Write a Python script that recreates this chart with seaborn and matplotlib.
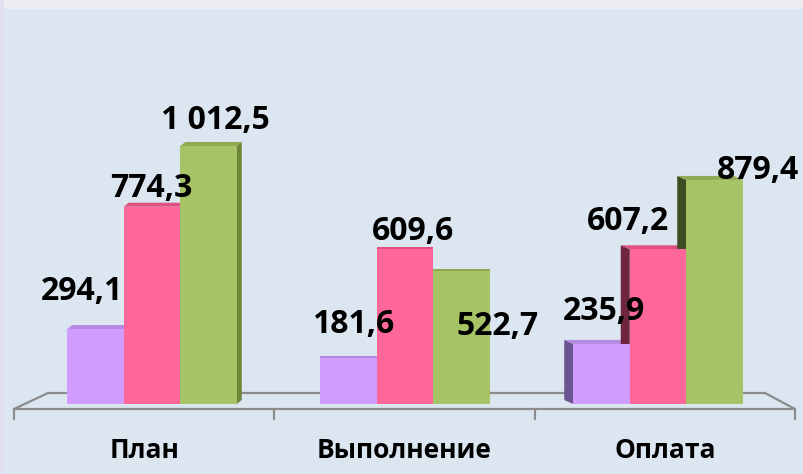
import numpy as np
import pandas as pd
import matplotlib
matplotlib.use("Agg")
import matplotlib.pyplot as plt
from matplotlib.patches import Polygon, Rectangle
import seaborn as sns

# Data
categories = ["План", "Выполнение", "Оплата"]
series = ["s1", "s2", "s3"]
values_s1 = [294.1, 181.6, 235.9]
values_s2 = [774.3, 609.6, 607.2]
values_s3 = [1012.5, 522.7, 879.4]
value_labels = [["294,1", "774,3", "1 012,5"],
                ["181,6", "609,6", "522,7"],
                ["235,9", "607,2", "879,4"]]

# styling
colors = ["#D09DFF", "#FF6699", "#A6C466"]
right_side_colors = ["#8A68AA", "#A03A5C", "#6E8537"]
left_side_colors = ["#6C5490", "#6E2640", "#3F4B22"]
top_colors = ["#B68AE0", "#E0507F", "#8FAA52"]
bg = "#DCE6F1"
# label offsets in pixels (dx, dy) per group / series
label_offsets = [[(-14, 38), (-1, 18), (7, 26)],
                 [(5, 33), (8, 17), (36, -56)],
                 [(2, 32), (-30, 28), (43, 9)]]
depth_px = [(5, 4), (0, 2), (-9, 4)]  # perspective of each group

df = pd.DataFrame({
    "cat": np.repeat(categories, 3),
    "series": series * 3,
    "value": [v for trio in zip(values_s1, values_s2, values_s3) for v in trio],
})

sns.set_theme(style="white")
plt.rcParams["font.family"] = ["Open Sans", "DejaVu Sans"]

fig = plt.figure(figsize=(8.04, 4.74), dpi=100)
fig.patch.set_facecolor(bg)
fig.patches.append(Rectangle((0, 1 - 8 / 474), 1, 8 / 474, transform=fig.transFigure,
                             color="#EDECF1", zorder=0))
fig.patches.append(Rectangle((0, 0), 3 / 804, 1, transform=fig.transFigure,
                             color="#E2E0F0", zorder=0))

ax = fig.add_axes([14 / 804, 70 / 474, 781 / 804, 396 / 474])
ax.set_facecolor(bg)

px_x = 253.0           # pixels per x unit
px_y = 0.2548          # pixels per value unit

sns.barplot(data=df, x="cat", y="value", hue="series", palette=colors,
            width=0.67, gap=0, saturation=1, legend=False, ax=ax, zorder=3,
            linewidth=0, edgecolor="none")
ax.set_xlim(-138 / px_x, 2 + 137 / px_x)
ax.set_ylim(0, 396 / px_y)

# floor of the 3D look
floor_kw = dict(color="#8C8C8C", lw=1.6, clip_on=False, zorder=1)
yf, yb = -5 / px_y, 11 / px_y
xl, xr = ax.get_xlim()
xbl, xbr = (48 - 152) / px_x, 2 + (765 - 658) / px_x
ax.plot([xl, xr], [yf, yf], **floor_kw)
ax.plot([xbl, xbr], [yb, yb], **floor_kw)
ax.plot([xl, xbl], [yf, yb], **floor_kw)
ax.plot([xr, xbr], [yf, yb], **floor_kw)
for xt in np.linspace(xl, xr, 4):
    ax.plot([xt, xt], [yf, yf - 10 / px_y], **floor_kw)

# side and top faces, labels
bars = ax.patches
for s in range(3):
    for g in range(3):
        p = bars[s * 3 + g]
        x, w, h = p.get_x(), p.get_width(), p.get_height()
        dx, dy = depth_px[g][0] / px_x, depth_px[g][1] / px_y
        if dx > 0:
            side = [(x + w, 0), (x + w + dx, dy), (x + w + dx, h + dy), (x + w, h)]
            ax.add_patch(Polygon(side, closed=True, color=right_side_colors[s], zorder=2, lw=0))
        elif dx < 0:
            side = [(x, 0), (x + dx, dy), (x + dx, h + dy), (x, h)]
            ax.add_patch(Polygon(side, closed=True, color=left_side_colors[s], zorder=2, lw=0))
        top = [(x, h), (x + w, h), (x + w + dx, h + dy), (x + dx, h + dy)]
        ax.add_patch(Polygon(top, closed=True, color=top_colors[s], zorder=2, lw=0))
        ox, oy = label_offsets[g][s]
        ax.annotate(value_labels[g][s], (x + w / 2, h), xytext=(ox, oy),
                    textcoords="offset pixels", ha="center", va="center",
                    fontsize=23, fontweight="bold", color="black", zorder=5)

# category labels along the front edge of the floor
for i, c in enumerate(categories):
    xc = xl + (xr - xl) * (i + 0.5) / 3
    ax.text(xc, yf - 41 / px_y, c, ha="center", va="center", fontsize=19,
            fontweight="bold", color="black", clip_on=False)

ax.set_xlabel("")
ax.set_ylabel("")
ax.set_xticks([])
ax.set_yticks([])
for sp in ax.spines.values():
    sp.set_visible(False)

plt.savefig("out.png", dpi=100, facecolor=fig.get_facecolor())
